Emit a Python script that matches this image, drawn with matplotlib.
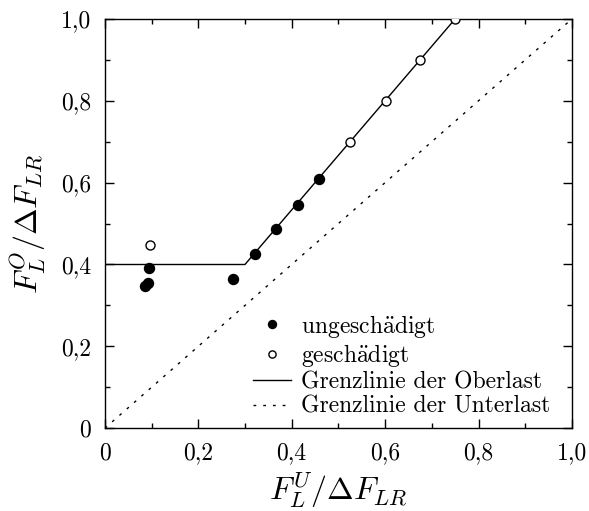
import numpy as np
import matplotlib
matplotlib.use("Agg")
from matplotlib import pyplot as plt
from matplotlib.ticker import MultipleLocator, FuncFormatter

plt.rcParams["font.family"] = "serif"
plt.rcParams["font.serif"] = ["cmr10"]
plt.rcParams["mathtext.fontset"] = "cm"
plt.rcParams["axes.unicode_minus"] = False
plt.rcParams["axes.formatter.use_mathtext"] = True

# ungeschaedigt (filled)
x_ung = [0.087, 0.093, 0.094, 0.275, 0.321, 0.366, 0.413, 0.458]
y_ung = [0.348, 0.354, 0.392, 0.364, 0.425, 0.487, 0.546, 0.609]

# geschaedigt (open)
x_ges = [0.096, 0.525, 0.602, 0.675, 0.750]
y_ges = [0.447, 0.699, 0.800, 0.900, 1.000]

# Grenzlinie der Oberlast
x_ober = [0.0, 0.3, 0.75]
y_ober = [0.4, 0.4, 1.0]

# Grenzlinie der Unterlast
x_unter = [0.0, 1.0]
y_unter = [0.0, 1.0]

fig = plt.figure(figsize=(5.89, 5.11), dpi=100)
ax = fig.add_axes([0.178, 0.162, 0.793, 0.801])

ax.plot(x_ung, y_ung, "o", color="black", ms=7.2, label=r"ungesch$\ddot{\rm a}$digt", zorder=3)
ax.plot(x_ges, y_ges, "o", mfc="white", mec="black", mew=1.0, ms=6.5,
        label=r"gesch$\ddot{\rm a}$digt", zorder=3)
ax.plot(x_ober, y_ober, "-", color="black", lw=1.0, label="Grenzlinie der Oberlast")
ax.plot(x_unter, y_unter, color="black", lw=1.0, dashes=(2, 5),
        label="Grenzlinie der Unterlast")

ax.set_xlim(0, 1)
ax.set_ylim(0, 1)
ax.xaxis.set_major_locator(MultipleLocator(0.2))
ax.yaxis.set_major_locator(MultipleLocator(0.2))
ax.xaxis.set_minor_locator(MultipleLocator(0.1))
ax.yaxis.set_minor_locator(MultipleLocator(0.1))

def fmt(v, pos):
    if abs(v) < 1e-9:
        return "0"
    return ("%.1f" % v).replace(".", ",")

ax.xaxis.set_major_formatter(FuncFormatter(fmt))
ax.yaxis.set_major_formatter(FuncFormatter(fmt))
ax.tick_params(which="both", direction="in", top=True, right=True, labelsize=17, width=1.0)
ax.tick_params(which="major", length=6.5, pad=10)
ax.tick_params(which="minor", length=3.6)
for s in ax.spines.values():
    s.set_linewidth(1.0)

ax.set_xlabel(r"$F_L^U/\Delta F_{LR}$", fontsize=23, labelpad=4.5)
ax.set_ylabel(r"$F_L^O/\Delta F_{LR}$", fontsize=23, labelpad=9)

ax.legend(loc="lower right", bbox_to_anchor=(0.974, 0.002), frameon=False, fontsize=17,
          handlelength=1.6, handletextpad=0.42, labelspacing=0.1, borderaxespad=0,
          markerscale=0.8)

fig.savefig("out.png", dpi=100)
